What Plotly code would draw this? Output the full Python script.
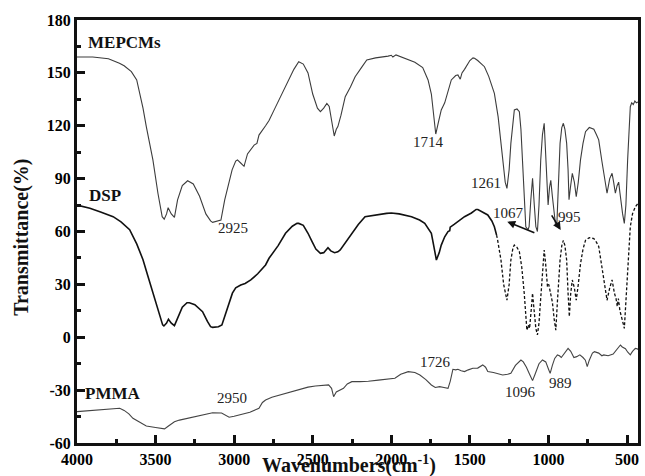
import plotly.graph_objects as go

# ---------------- data ----------------
mepcm_wn = [4000, 3900, 3800, 3770, 3730, 3700, 3654, 3620, 3601, 3580, 3559, 3517, 3485, 3458, 3445, 3430,
            3420, 3400, 3380, 3360, 3330, 3296, 3260, 3220, 3180, 3150, 3137, 3100, 3084, 3060, 3035, 3013,
            2990, 2979, 2960, 2937, 2915, 2873, 2855, 2842, 2800, 2778, 2740, 2694, 2650, 2620, 2589, 2560,
            2530, 2500, 2470, 2451, 2430, 2410, 2395, 2380, 2363, 2350, 2340, 2320, 2293, 2260, 2230, 2190,
            2156, 2100, 2050, 2020, 2000, 1990, 1970, 1950, 1900, 1850, 1800, 1766, 1745, 1730, 1717, 1700,
            1682, 1660, 1618, 1590, 1576, 1561, 1550, 1534, 1500, 1480, 1470, 1450, 1407, 1380, 1344, 1320,
            1291, 1275, 1264, 1250, 1239, 1225, 1217, 1200, 1185, 1175, 1165, 1155, 1144, 1130, 1123, 1112,
            1101, 1090, 1080, 1070, 1060, 1049, 1038, 1027, 1015, 1002, 993, 985, 975, 968, 955, 947, 938,
            926, 915, 905, 895, 884, 875, 869, 860, 848, 835, 823, 810, 796, 780, 764, 740, 720, 711, 695,
            680, 660, 640, 627, 610, 595, 585, 574, 563, 553, 545, 538, 528, 517, 507, 496, 487, 479, 470,
            460, 450, 440, 430]
mepcm_t = [159, 159, 158, 157, 155.5, 154, 150.7, 146, 138.4, 130, 119.5, 100.6, 81.7, 68.4, 67, 70,
           73.5, 70, 68, 78, 86, 88.8, 87, 80, 70, 66, 65.2, 66, 66.5, 78, 88, 95,
           100, 100.6, 99, 97, 104, 109, 110, 114.7, 120, 123, 130, 138.4, 146, 152, 156.3, 155,
           150, 138, 130, 128, 130, 132.7, 131, 122, 114.2, 118, 119.5, 126, 136.5, 142, 147.8, 153,
           157.3, 158.5, 159, 159.5, 160, 159, 160.2, 159.5, 158, 156, 153, 146, 138, 126, 115.3, 122,
           129, 133, 146, 148.5, 148.8, 146.4, 150, 152, 157, 158.5, 158.3, 157, 153.5, 148, 138.4, 125,
           100.6, 88, 84.5, 95, 110, 124, 129, 129.5, 128, 118, 100.6, 80, 62.7, 61, 62.7, 78,
           90.2, 75, 62.7, 60, 75, 100.6, 115, 121.4, 100, 75, 85, 89, 80, 74, 64, 62.7, 85,
           110, 119, 121.4, 118, 110, 95, 78, 85, 93, 88, 79.7, 88, 100.6, 110, 116.6, 119, 118.5, 118, 115,
           112, 100, 88, 81.7, 90, 93, 88, 81.7, 86, 88, 82, 76, 70, 64.6, 75, 100.6, 120, 130.8, 133,
           132, 134, 133, 133.5]

dsp_wn = [4000, 3950, 3918, 3850, 3800, 3770, 3720, 3665, 3620, 3580, 3550, 3517, 3480, 3455, 3447, 3430,
          3418, 3400, 3380, 3360, 3330, 3300, 3285, 3250, 3201, 3170, 3150, 3137, 3100, 3078, 3050, 3011,
          2990, 2958, 2930, 2894, 2850, 2800, 2778, 2720, 2673, 2630, 2600, 2589, 2560, 2530, 2504, 2480,
          2451, 2430, 2403, 2385, 2361, 2340, 2325, 2290, 2251, 2210, 2167, 2100, 2030, 2000, 1950, 1871,
          1820, 1787, 1760, 1745, 1730, 1713, 1695, 1682, 1660, 1639, 1628, 1625, 1600, 1534, 1490, 1460,
          1449, 1420, 1400, 1386, 1360, 1344, 1330, 1323, 1302, 1285, 1264, 1250, 1239, 1225, 1217, 1200,
          1185, 1170, 1154, 1145, 1137, 1128, 1120, 1110, 1101, 1094, 1088, 1080, 1070, 1060, 1050, 1038,
          1027, 1018, 1006, 998, 985, 975, 963, 953, 943, 935, 926, 915, 905, 895, 884, 875, 867, 858,
          848, 835, 823, 810, 796, 780, 764, 740, 711, 695, 680, 660, 640, 627, 610, 595, 580, 570, 562,
          555, 545, 535, 525, 517, 508, 500, 490, 479, 465, 447, 430]
dsp_t = [75, 74, 73.2, 71, 69.5, 68.4, 65.5, 61, 53, 44, 35, 25, 14, 7, 6.4, 8,
         10.2, 8, 6.6, 11, 17, 19.6, 19.6, 18.5, 14.5, 9, 6, 5.6, 6, 7, 15, 25,
         28, 29.6, 30.5, 32.5, 36, 41, 44.8, 52, 59, 63, 64.6, 64.6, 63.5, 59, 54.2, 50,
         47.6, 48, 50.8, 49, 48, 48.5, 49.5, 54, 59, 64, 68.4, 69.5, 70.3, 70.5, 70, 68.4,
         66.5, 64.6, 61, 59, 52, 43.8, 48, 52.3, 57, 60, 60.5, 62.5, 64, 68.4, 70.5, 72.5,
         72.5, 71, 70, 69.4, 66, 62.7, 58, 55, 43.8, 30, 21, 30, 43.8, 51, 52.3, 51,
         48.5, 40, 25, 12, 4, 7, 5, 15, 25, 18, 10, 5, 1.3, 8, 21, 38,
         49.5, 42, 28.7, 30, 25, 20, 10, 4, 20, 35, 43.8, 52, 55, 52, 43.8, 25, 11.7, 25,
         32.5, 28, 21, 30, 41.6, 50, 55, 56.5, 56, 54, 51.5, 40, 28, 21, 28, 32.5, 25, 22, 17.5,
         22, 15, 12, 8, 5, 18, 34.4, 50, 62.7, 70, 74, 76]

pmma_wn = [4000, 3900, 3800, 3728, 3700, 3670, 3644, 3600, 3559, 3500, 3443, 3420, 3380, 3348, 3300, 3250,
           3200, 3137, 3080, 3050, 3032, 3000, 2968, 2900, 2860, 2842, 2820, 2800, 2760, 2720, 2673, 2600,
           2530, 2483, 2420, 2399, 2380, 2367, 2350, 2325, 2304, 2280, 2251, 2200, 2146, 2082, 2030, 1977,
           1940, 1892, 1850, 1818, 1780, 1745, 1720, 1692, 1665, 1639, 1625, 1608, 1590, 1576, 1555, 1534,
           1510, 1481, 1450, 1418, 1400, 1386, 1350, 1320, 1291, 1260, 1239, 1210, 1175, 1160, 1140, 1120,
           1101, 1085, 1060, 1038, 1017, 1000, 989, 975, 960, 943, 930, 918, 900, 875, 858, 838, 820, 800,
           780, 765, 753, 740, 720, 707, 680, 660, 648, 620, 588, 565, 542, 530, 510, 495, 479, 465, 447,
           435, 430]
pmma_t = [-42.2, -41.5, -40.8, -40.3, -41.5, -43.5, -46, -48.5, -50.4, -51.2, -52, -50.5, -48, -47, -46, -45,
          -44, -42.8, -43, -44.5, -45.4, -44.8, -44, -42.5, -41, -40.3, -37, -35.6, -34, -33, -31.8, -30,
          -28.3, -27.7, -27.2, -27, -29, -33.7, -31, -30, -29, -26.5, -25.2, -25.2, -25, -24.3, -24, -23.3,
          -21, -19.5, -20, -21.4, -24, -27.1, -28.5, -28, -28.5, -29, -25, -18.2, -18.5, -18.2, -19, -19.5,
          -18.5, -17.6, -17.5, -15.7, -17, -19.5, -20, -20.5, -21.4, -21, -20.5, -16, -12.9, -14, -17, -21,
          -24.6, -21, -15, -12.9, -14, -18, -20.5, -16, -12, -10, -10.5, -11.5, -9, -6.3, -8, -11.5, -11, -10,
          -11.5, -13, -16.7, -13, -9, -8.2, -9, -10.5, -10, -10.5, -9.5, -7, -4.4, -5.5, -6.5, -8.5, -10, -8, -6.3,
          -6.5, -7]

series_names = ["MEPCMs", "DSP", "PMMA"]
peak_labels = ["2925", "1714", "1261", "1067", "995", "2950", "1726", "1096", "989"]
x_ticks = [4000, 3500, 3000, 2500, 2000, 1500, 1000, 500]
x_minor = [3750, 3250, 2750, 2250, 1750, 1250, 750]
y_ticks = [-60, -30, 0, 30, 60, 90, 120, 150, 180]
y_minor = [-45, -15, 15, 45, 75, 105, 135, 165]
dsp_dash_start = 1330

# ---------------- figure ----------------
SERIF = "Liberation Serif"
INK = "#111111"
X_RANGE = [4000, 430]
Y_RANGE = [-60, 180]

fig = go.Figure()

fig.add_trace(go.Scatter(x=mepcm_wn, y=mepcm_t, mode="lines",
                         line=dict(color="#3c3c3c", width=1.1), name=series_names[0]))

dsp_solid_x = [w for w in dsp_wn if w >= dsp_dash_start]
dsp_solid_y = [t for w, t in zip(dsp_wn, dsp_t) if w >= dsp_dash_start]
dsp_dash_x = [w for w in dsp_wn if w <= dsp_dash_start]
dsp_dash_y = [t for w, t in zip(dsp_wn, dsp_t) if w <= dsp_dash_start]
fig.add_trace(go.Scatter(x=dsp_solid_x, y=dsp_solid_y, mode="lines",
                         line=dict(color="#111111", width=1.6), name=series_names[1]))
fig.add_trace(go.Scatter(x=dsp_dash_x, y=dsp_dash_y, mode="lines",
                         line=dict(color="#111111", width=1.3, dash="3px,2px"),
                         name=series_names[1], showlegend=False))

fig.add_trace(go.Scatter(x=pmma_wn, y=pmma_t, mode="lines",
                         line=dict(color="#444444", width=1.1), name=series_names[2]))

annotations = []
for name, xx, yy in [(series_names[0], 3945, 167), (series_names[1], 3935, 80.7), (series_names[2], 3960, -31.8)]:
    annotations.append(dict(x=xx, y=yy, xref="x", yref="y", text="<b>" + name + "</b>", showarrow=False,
                            xanchor="left", yanchor="middle",
                            font=dict(family=SERIF, size=17, color="#111")))
peak_pos = [(3006, 61.8), (1766, 111), (1397, 87.7), (1253, 70.7), (869, 68.4),
            (3011, -34.7), (1720, -13.9), (1175, -30.9), (922, -26.1)]
for lab, (xx, yy) in zip(peak_labels, peak_pos):
    annotations.append(dict(x=xx, y=yy, xref="x", yref="y", text=lab, showarrow=False,
                            xanchor="center", yanchor="middle",
                            font=dict(family=SERIF, size=15, color="#222")))
annotations.append(dict(x=1262, y=65.6, ax=1080, ay=59, xref="x", yref="y", axref="x", ayref="y",
                        text="", showarrow=True, arrowhead=2, arrowsize=1, arrowwidth=1.6, arrowcolor="#111"))
annotations.append(dict(x=922, y=60.8, ax=985, ay=70, xref="x", yref="y", axref="x", ayref="y",
                        text="", showarrow=True, arrowhead=2, arrowsize=1, arrowwidth=1.6, arrowcolor="#111"))
annotations.append(dict(x=0.484, y=-0.052, xref="paper", yref="paper",
                        text="<b>Wavenumbers(cm<sup>-1</sup>)</b>", showarrow=False,
                        xanchor="center", yanchor="middle",
                        font=dict(family=SERIF, size=20, color="#111")))
annotations.append(dict(x=-0.098, y=0.485, xref="paper", yref="paper",
                        text="<b>Transmittance(%)</b>", showarrow=False, textangle=-90,
                        xanchor="center", yanchor="middle",
                        font=dict(family=SERIF, size=20, color="#111")))

tick_font = dict(family=SERIF, size=16, color="#000000")

fig.update_layout(
    width=645, height=476,
    margin=dict(l=77, r=4, t=20, b=33),
    paper_bgcolor="white", plot_bgcolor="white",
    showlegend=False,
    annotations=annotations,
)
fig.update_xaxes(range=X_RANGE, tickvals=x_ticks, ticktext=["<b>%d</b>" % v for v in x_ticks],
                 showline=True, linecolor=INK, linewidth=3, mirror=True,
                 ticks="inside", ticklen=8, tickwidth=2.5, tickcolor=INK,
                 minor=dict(tickvals=x_minor, ticks="inside", ticklen=4, tickwidth=2.5, tickcolor=INK),
                 showgrid=False, zeroline=False, tickfont=tick_font)
fig.update_yaxes(range=Y_RANGE, tickvals=y_ticks, ticktext=["<b>%d</b>" % v for v in y_ticks],
                 showline=True, linecolor=INK, linewidth=3, mirror=True,
                 ticks="inside", ticklen=8, tickwidth=2.5, tickcolor=INK,
                 minor=dict(tickvals=y_minor, ticks="inside", ticklen=4, tickwidth=2.5, tickcolor=INK),
                 showgrid=False, zeroline=False, tickfont=tick_font)

fig.write_html("out.html")
